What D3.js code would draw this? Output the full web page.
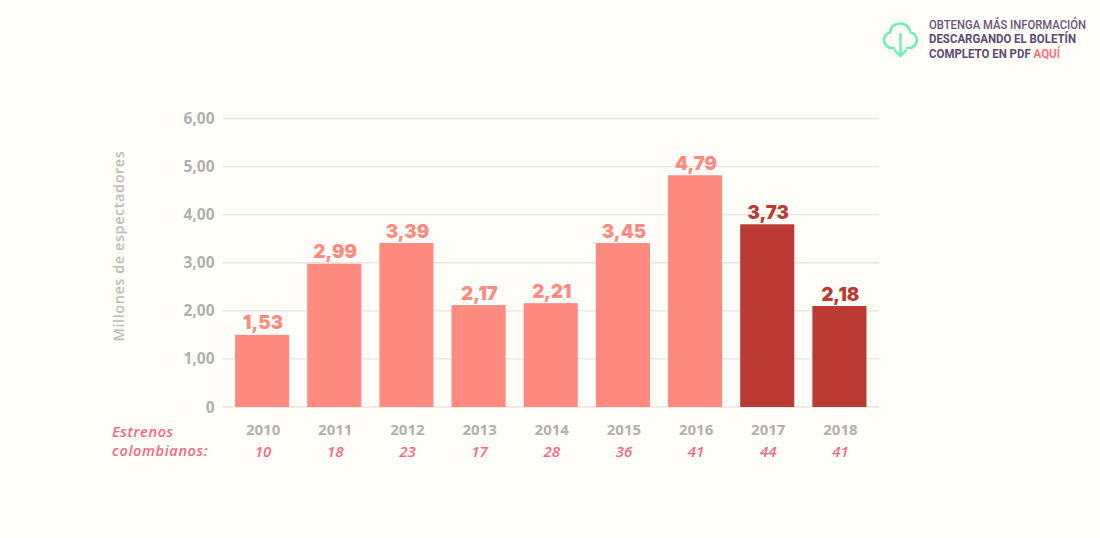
<!DOCTYPE html>
<html><head><meta charset="utf-8">
<script src="https://cdn.jsdelivr.net/npm/d3@7"></script>
<style>
html,body{margin:0;padding:0;background:#fffef8;overflow:hidden}
svg{display:block}
text{font-kerning:normal}
</style></head><body>
<svg id="c" width="1100" height="538"></svg>
<script>
const years=["2010","2011","2012","2013","2014","2015","2016","2017","2018"];
const barValues=[1.50,2.98,3.41,2.12,2.16,3.41,4.82,3.80,2.10];
const valueLabels=["1,53","2,99","3,39","2,17","2,21","3,45","4,79","3,73","2,18"];
const estrenos=["10","18","23","17","28","36","41","44","41"];
const darkYears=["2017","2018"];
const yTicks=[0,1,2,3,4,5,6];
const yTickLabels=["0","1,00","2,00","3,00","4,00","5,00","6,00"];
const yTitle="Millones de espectadores";
const rowTitle=["Estrenos","colombianos:"];
const note=[[["OBTENGA MÁS INFORMACIÓN",500,"#6b5480"]],[["DESCARGANDO EL BOLETÍN",700,"#5f4a75"]],[["COMPLETO EN PDF ",700,"#5f4a75"],["AQUÍ",700,"#fb7285"]]];

const svg=d3.select("#c");
const light="#ff8a80",dark="#bb3a34",grey="#b1b0ae",pink="#f8677f";
const body="'Open Sans','Noto Sans',sans-serif",heavy="Inter,Lato,sans-serif";
const x=d3.scaleBand().domain(years).range([226,875.5]).paddingInner(0.25).paddingOuter(0.125);
const y=d3.scaleLinear().domain([0,6]).range([407,118.5]);

const grid=svg.append("g");
grid.selectAll("line").data(yTicks).join("line")
 .attr("x1",223).attr("x2",879).attr("y1",d=>y(d)).attr("y2",d=>y(d))
 .attr("stroke","#e6e5e0").attr("stroke-width",1.4);
svg.append("g").selectAll("text").data(yTicks).join("text")
 .attr("x",214.5).attr("y",d=>y(d)+5.5).attr("text-anchor","end")
 .attr("font-family",body).attr("font-weight",700).attr("font-size",15.5).attr("fill",grey)
 .text((d,i)=>yTickLabels[i]);
svg.append("text").attr("transform","translate(124,246) rotate(-90)").attr("text-anchor","middle")
 .attr("font-family",body).attr("font-weight",600).attr("font-size",14.5).attr("letter-spacing",0.55).attr("fill","#bdbcb9").text(yTitle);

svg.append("g").selectAll("rect").data(years).join("rect")
 .attr("x",d=>x(d)).attr("width",x.bandwidth())
 .attr("y",(d,i)=>y(barValues[i])).attr("height",(d,i)=>y(0)-y(barValues[i]))
 .attr("fill",d=>darkYears.includes(d)?dark:light);

svg.append("g").selectAll("text").data(years).join("text")
 .attr("x",d=>x(d)+x.bandwidth()/2+1).attr("y",(d,i)=>y(barValues[i])-5.5).attr("text-anchor","middle")
 .attr("font-family",heavy).attr("font-weight",900).attr("font-size",18.5)
 .attr("fill",d=>darkYears.includes(d)?dark:light)
 .text((d,i)=>valueLabels[i]);

svg.append("g").selectAll("text").data(years).join("text")
 .attr("x",d=>x(d)+x.bandwidth()/2+1).attr("y",435).attr("text-anchor","middle")
 .attr("font-family",body).attr("font-weight",700).attr("font-size",15).attr("fill",grey).text(d=>d);
svg.append("g").selectAll("text").data(years).join("text")
 .attr("x",d=>x(d)+x.bandwidth()/2+1).attr("y",457).attr("text-anchor","middle")
 .attr("font-family",body).attr("font-style","italic").attr("font-weight",600).attr("font-size",15).attr("fill",pink)
 .text((d,i)=>estrenos[i]);
svg.append("g").selectAll("text").data(rowTitle).join("text")
 .attr("x",112).attr("y",(d,i)=>437+i*19)
 .attr("font-family",body).attr("font-style","italic").attr("font-weight",600).attr("font-size",14.5).attr("letter-spacing",0.65).attr("fill",pink).text(d=>d);

// download icon
const ic=svg.append("g").attr("fill","none").attr("stroke","#73edbf").attr("stroke-width",2.6).attr("stroke-linecap","round").attr("stroke-linejoin","round");
ic.append("path").attr("d","M894,48 H892 C887,48 884,44 884,40 C884,36 887,33 890,32.500 C890,27 895,23.500 900,23.500 C906,23.500 910,28 910.500,32.500 C914,32.500 917,36 917,40 C917,44 914,48 909,48 H907");
ic.append("path").attr("d","M900.500,34 V56 M895,50.500 L900.500,56 L906,50.500");

const noteWidths=[157,147,131];
const note_g=svg.append("g").attr("font-family","Roboto,sans-serif").attr("font-size",12.5);
note.forEach((line,i)=>{
 const t=note_g.append("text").attr("x",929).attr("y",28.500+i*14.500)
  .attr("textLength",noteWidths[i]).attr("lengthAdjust","spacingAndGlyphs");
 line.forEach(s=>t.append("tspan").attr("font-weight",s[1]).attr("fill",s[2]).text(s[0]));
});
</script></body></html>
